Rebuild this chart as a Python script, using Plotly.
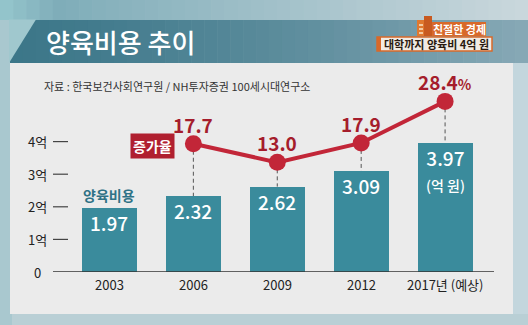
import plotly.graph_objects as go

# 양육비용 (억 원) and 증가율 (%) by survey year
years = ["2003", "2006", "2009", "2012", "2017년 (예상)"]
cost = [1.97, 2.32, 2.62, 3.09, 3.97]
growth = [None, 17.7, 13.0, 17.9, 28.4]
growth_suffix = ["", "", "", "", "%"]
y_ticks = [1, 2, 3, 4]
y_tick_text = ["1억", "2억", "3억", "4억"]

FONT = "Noto Sans CJK KR"
BAR = "#3a8b9c"
LINE = "#c22638"
RED_TXT = "#a51d2c"

W, H = 528, 325
L, R, T, B = 53, 34, 80, 53
PW, PH = W - L - R, H - T - B


def fx(px):
    return (px - L) / PW


def fy(py):
    return (H - B - py) / PH


Y_RANGE = [0, PH / 32.6]
Y2_RANGE = [-14.7, 33.8]
X_RANGE = [-0.673, 4.583]


def to_y2(v):
    return Y2_RANGE[0] + (v - Y_RANGE[0]) / (Y_RANGE[1] - Y_RANGE[0]) * (Y2_RANGE[1] - Y2_RANGE[0])


def mix(c1, c2, t):
    a = [int(c1[i:i + 2], 16) for i in (1, 3, 5)]
    b = [int(c2[i:i + 2], 16) for i in (1, 3, 5)]
    return "#%02x%02x%02x" % tuple(round(a[k] + (b[k] - a[k]) * t) for k in range(3))


idx = list(range(len(years)))

fig = go.Figure()
fig.add_trace(go.Bar(x=idx, y=cost, width=0.656, marker=dict(color=BAR, line=dict(width=0)),
                     hoverinfo="skip"))
fig.add_trace(go.Scatter(x=idx, y=growth, yaxis="y2", mode="lines+markers",
                         line=dict(color=LINE, width=4),
                         marker=dict(size=17, color=LINE), hoverinfo="skip"))

shapes = []

# top strip gradient
N = 40
for k in range(N):
    x0 = W * k / N
    x1 = W * (k + 1) / N + 0.5
    t = k / (N - 1)
    if t < 0.1:
        col = mix("#93c4cb", "#7fadb9", t / 0.1)
    else:
        col = mix("#7fadb9", "#c9d7dc", (t - 0.1) / 0.9)
    shapes.append(dict(type="rect", xref="paper", yref="paper", x0=fx(x0), x1=fx(x1),
                       y0=fy(20), y1=fy(0), fillcolor=col, line=dict(width=0), layer="below"))
# side / bottom surround
shapes.append(dict(type="rect", xref="paper", yref="paper", x0=fx(0), x1=fx(12),
                   y0=fy(325), y1=fy(20), fillcolor="#a9c8cf", line=dict(width=0), layer="below"))
shapes.append(dict(type="rect", xref="paper", yref="paper", x0=fx(12), x1=fx(528),
                   y0=fy(325), y1=fy(314), fillcolor="#b9cfd5", line=dict(width=0), layer="below"))
shapes.append(dict(type="rect", xref="paper", yref="paper", x0=fx(513), x1=fx(528),
                   y0=fy(314), y1=fy(20), fillcolor="#c3d6dd", line=dict(width=0), layer="below"))
# header band gradient with slanted left edge
for k in range(N):
    x0 = 10 + (518) * k / N
    x1 = 10 + (518) * (k + 1) / N + 0.5
    t = k / (N - 1)
    col = mix("#3c7789", "#86a8b5", t ** 1.3)
    shapes.append(dict(type="rect", xref="paper", yref="paper", x0=fx(x0), x1=fx(x1),
                       y0=fy(63), y1=fy(20), fillcolor=col, line=dict(width=0), layer="below"))
shapes.append(dict(type="path", xref="paper", yref="paper",
                   path="M %f,%f L %f,%f L %f,%f Z" % (fx(9), fy(63), fx(9), fy(19.5), fx(36), fy(19.5)),
                   fillcolor="#a0c8ce", line=dict(width=0), layer="below"))
# chart panel
shapes.append(dict(type="rect", xref="paper", yref="paper", x0=fx(10), x1=fx(513),
                   y0=fy(314), y1=fy(63), fillcolor="#ebebeb", line=dict(width=0), layer="below"))
# baseline
shapes.append(dict(type="line", xref="paper", yref="y", x0=0, x1=1, y0=0, y1=0,
                   line=dict(color="#333333", width=1.5)))
# y tick dashes
for v in y_ticks:
    shapes.append(dict(type="line", xref="paper", yref="y", x0=fx(53), x1=fx(68), y0=v, y1=v,
                       line=dict(color="#444444", width=1.2)))
# dashed drop lines from rate points to bar tops
for i, g in enumerate(growth):
    if g is None:
        continue
    shapes.append(dict(type="line", xref="x", yref="y2", x0=i, x1=i, y0=g, y1=to_y2(cost[i]),
                       line=dict(color="#555555", width=1, dash="4px,3px"), layer="below"))
# badge: building icon, orange tag and caption box
shapes.append(dict(type="rect", xref="paper", yref="paper", x0=fx(432), x1=fx(486),
                   y0=fy(36), y1=fy(22), fillcolor="#d8692a", line=dict(width=0)))
shapes.append(dict(type="rect", xref="paper", yref="paper", x0=fx(417), x1=fx(425),
                   y0=fy(36), y1=fy(20), fillcolor="#e0782f", line=dict(width=0)))
shapes.append(dict(type="rect", xref="paper", yref="paper", x0=fx(424), x1=fx(432),
                   y0=fy(36), y1=fy(16), fillcolor="#c85a20", line=dict(width=0)))
for wy in (24, 28, 32):
    shapes.append(dict(type="rect", xref="paper", yref="paper", x0=fx(419), x1=fx(423),
                       y0=fy(wy + 2), y1=fy(wy), fillcolor="#f3c9a0", line=dict(width=0)))
shapes.append(dict(type="rect", xref="paper", yref="paper", x0=fx(377), x1=fx(492),
                   y0=fy(51), y1=fy(37), fillcolor="#f1ebe4", line=dict(color="#d8692a", width=1.5)))
shapes.append(dict(type="rect", xref="paper", yref="paper", x0=fx(377), x1=fx(381),
                   y0=fy(51), y1=fy(37), fillcolor="#d8692a", line=dict(width=0)))

ann = []
# title
ann.append(dict(text="양육비용 추이", xref="paper", yref="paper", x=fx(44), y=fy(41),
                xanchor="left", yanchor="middle", showarrow=False,
                font=dict(family=FONT, size=26, color="white", weight=500)))
ann.append(dict(text="<b>친절한 경제</b>", xref="paper", yref="paper", x=fx(459), y=fy(29),
                xanchor="center", yanchor="middle", showarrow=False,
                font=dict(family=FONT, size=11, color="white")))
ann.append(dict(text="<b>대학까지 양육비 4억 원</b>", xref="paper", yref="paper", x=fx(436), y=fy(44),
                xanchor="center", yanchor="middle", showarrow=False,
                font=dict(family=FONT, size=11, color="#2a1a10")))
# source
ann.append(dict(text="자료 : 한국보건사회연구원 / NH투자증권 100세시대연구소", xref="paper", yref="paper",
                x=fx(42), y=fy(86), xanchor="left", yanchor="middle", showarrow=False,
                font=dict(family=FONT, size=11, color="#333333")))
# y tick labels
ann.append(dict(text="0", xref="paper", yref="y", x=fx(43), y=0, xanchor="right", yanchor="middle",
                showarrow=False, font=dict(family=FONT, size=13, color="#222222")))
for v, t in zip(y_ticks, y_tick_text):
    ann.append(dict(text=t, xref="paper", yref="y", x=fx(49), y=v, xanchor="right", yanchor="middle",
                    showarrow=False, font=dict(family=FONT, size=13, color="#222222")))
# x tick labels
for i, t in enumerate(years):
    ann.append(dict(text=t, xref="x", yref="paper", x=i, y=0, xanchor="center", yanchor="top",
                    yshift=-1, showarrow=False, font=dict(family=FONT, size=13, color="#222222")))
# bar values
for i, v in enumerate(cost):
    txt = "%.2f" % v
    if i == len(cost) - 1:
        txt += "<br><span style='font-size:14px'>(억 원)</span>"
    ann.append(dict(text=txt, xref="x", yref="y", x=i, y=v, xanchor="center", yanchor="top",
                    yshift=1, showarrow=False,
                    font=dict(family=FONT, size=19, color="white", weight=500)))
# rate values
for i, g in enumerate(growth):
    if g is None:
        continue
    txt = "%.1f" % g
    if growth_suffix[i]:
        txt += "<span style='font-size:14px'>%s</span>" % growth_suffix[i]
    ann.append(dict(text=txt, xref="x", yref="y2", x=i, y=g, xanchor="center", yanchor="bottom",
                    yshift=4, showarrow=False,
                    font=dict(family=FONT, size=19, color=RED_TXT, weight=700)))
# series labels
ann.append(dict(text="<b>양육비용</b>", xref="x", yref="y", x=0, y=cost[0], xanchor="center",
                yanchor="bottom", yshift=1, showarrow=False,
                font=dict(family=FONT, size=14, color="#2f7286")))
ann.append(dict(text="<b>증가율</b>", xref="x", yref="y2", x=1, y=growth[1], xanchor="right",
                yanchor="middle", xshift=-18, yshift=-2, showarrow=False, bgcolor="#b01f2f",
                borderpad=2, font=dict(family=FONT, size=14, color="white")))

fig.update_layout(
    width=W, height=H, margin=dict(l=L, r=R, t=T, b=B),
    paper_bgcolor="#b5ccd3", plot_bgcolor="rgba(0,0,0,0)",
    showlegend=False, bargap=0,
    xaxis=dict(range=X_RANGE, showgrid=False, zeroline=False, showticklabels=False,
               showline=False, fixedrange=True),
    yaxis=dict(range=Y_RANGE, showgrid=False, zeroline=False, showticklabels=False,
               showline=False, fixedrange=True),
    yaxis2=dict(range=Y2_RANGE, overlaying="y", showgrid=False, zeroline=False,
                showticklabels=False, showline=False, fixedrange=True),
    shapes=shapes, annotations=ann,
)

fig.write_html("out.html", config={"displayModeBar": False})
